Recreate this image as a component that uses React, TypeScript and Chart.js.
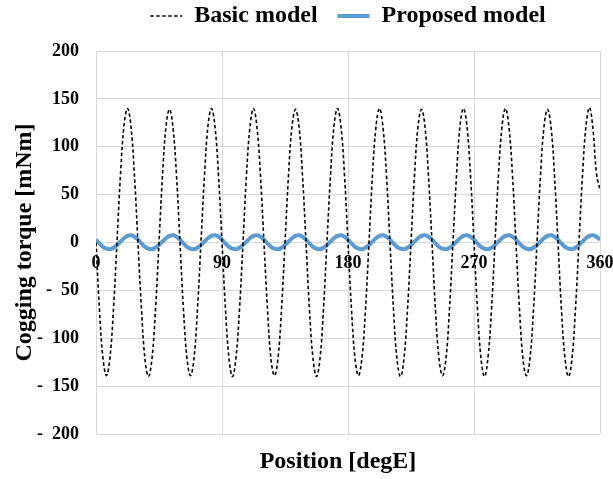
import React, { useEffect, useRef } from 'react';
import { Chart, registerables } from 'chart.js';

Chart.register(...registerables);

// ---- data ----
const POSITION_STEP_DEG = 2.5; // sampling step of the position axis
const X_MIN = 0;
const X_MAX = 360;
const X_TICK_STEP = 90;
const Y_MIN = -200;
const Y_MAX = 200;
const Y_TICK_STEP = 50;

const seriesNames = ['Basic model', 'Proposed model'];

// Basic model cogging torque [mNm], one value every 2.5 degE from 0 to 360
const basicModel = [
  0, -71, -121, -139, -120, -69, 1, 71, 122, 140, 121, 69,
  -1, -70, -122, -140, -121, -70, 0, 70, 121, 139, 120, 70,
  0, -71, -121, -139, -121, -69, 1, 70, 122, 140, 121, 70,
  0, -70, -121, -140, -120, -70, 0, 71, 121, 140, 120, 69,
  -1, -70, -122, -139, -121, -70, 0, 70, 121, 139, 121, 70,
  0, -71, -121, -140, -121, -69, 1, 70, 122, 140, 121, 70,
  0, -70, -121, -139, -120, -70, 0, 71, 121, 140, 120, 70,
  -1, -70, -122, -140, -121, -70, 0, 70, 121, 139, 121, 69,
  0, -71, -121, -139, -121, -69, 1, 70, 122, 140, 121, 70,
  0, -70, -121, -140, -120, -70, 0, 71, 121, 140, 120, 70,
  -1, -70, -122, -139, -121, -70, 0, 70, 121, 139, 121, 70,
  0, -71, -121, -140, -121, -69, 1, 70, 122, 141, 118, 72,
  55,
];

// Proposed model cogging torque [mNm], same positions
const proposedModel = [
  3, -1, -4.5, -6.5, -7, -5.5, -2.5, 1, 4.5, 7, 7.5, 6,
  3, -1, -4.5, -6.5, -7, -5.5, -2.5, 1, 4.5, 7, 7.5, 6,
  3, -1, -4.5, -6.5, -7, -5.5, -2.5, 1, 4.5, 7, 7.5, 6,
  3, -1, -4.5, -6.5, -7, -5.5, -2.5, 1, 4.5, 7, 7.5, 6,
  3, -1, -4.5, -6.5, -7, -5.5, -2.5, 1, 4.5, 7, 7.5, 6,
  3, -1, -4.5, -6.5, -7, -5.5, -2.5, 1, 4.5, 7, 7.5, 6,
  3, -1, -4.5, -6.5, -7, -5.5, -2.5, 1, 4.5, 7, 7.5, 6,
  3, -1, -4.5, -6.5, -7, -5.5, -2.5, 1, 4.5, 7, 7.5, 6,
  3, -1, -4.5, -6.5, -7, -5.5, -2.5, 1, 4.5, 7, 7.5, 6,
  3, -1, -4.5, -6.5, -7, -5.5, -2.5, 1, 4.5, 7, 7.5, 6,
  3, -1, -4.5, -6.5, -7, -5.5, -2.5, 1, 4.5, 7, 7.5, 6,
  3, -1, -4.5, -6.5, -7, -5.5, -2.5, 1, 4.5, 7, 7.5, 6,
  3,
];

const positionsDeg = basicModel.map((_, i) => i * POSITION_STEP_DEG);

const X_TITLE = 'Position [degE]';
const Y_TITLE = 'Cogging torque [mNm]';

// ---- styles ----
const FONT_FAMILY = "'Liberation Serif', 'Times New Roman', serif";
const GRID_COLOR = '#d9d9d9';
const BASIC_COLOR = '#000000';
const PROPOSED_COLOR = '#5b9bd5';
const BASIC_DASH = [3.5, 2.5];

const formatYTick = (v: number) => (v < 0 ? '-  ' + Math.abs(v) : String(v));

const legendSpacer = {
  id: 'legendSpacer',
  beforeInit(chart: any) {
    const legend = chart.legend;
    if (!legend) return;
    const origFit = legend.fit;
    legend.fit = function () {
      origFit.call(this);
      this.height = 67;
    };
  },
};

const xTitleShift = {
  id: 'xTitleShift',
  afterLayout(chart: any) {
    const s = chart.scales.x2;
    if (s) {
      s.left -= 10;
      s.right -= 10;
    }
  },
};

export default function App() {
  const canvasRef = useRef<HTMLCanvasElement | null>(null);

  useEffect(() => {
    if (!canvasRef.current) return;
    const chart = new Chart(canvasRef.current, {
      type: 'line',
      data: {
        datasets: [
          {
            label: seriesNames[0],
            data: basicModel.map((y, i) => ({ x: positionsDeg[i], y })),
            borderColor: BASIC_COLOR,
            backgroundColor: BASIC_COLOR,
            borderWidth: 1.6,
            borderDash: BASIC_DASH,
            pointRadius: 0,
            tension: 0.4,
            fill: false,
          },
          {
            label: seriesNames[1],
            data: proposedModel.map((y, i) => ({ x: positionsDeg[i], y })),
            borderColor: PROPOSED_COLOR,
            backgroundColor: PROPOSED_COLOR,
            borderWidth: 4,
            pointRadius: 0,
            tension: 0.4,
            fill: false,
          },
        ],
      },
      options: {
        responsive: false,
        animation: false,
        devicePixelRatio: 1,
        layout: { padding: { top: -16, left: 0, right: 13, bottom: 0 } },
        plugins: {
          legend: {
            display: true,
            position: 'top',
            fullSize: false,
            labels: {
              usePointStyle: true,
              pointStyle: 'line',
              pointStyleWidth: 32,
              padding: 20,
              color: '#000',
              font: { family: FONT_FAMILY, size: 24, weight: 'bold' },
              generateLabels: (c: any) => {
                const items = Chart.defaults.plugins.legend.labels.generateLabels(c);
                return items.map((it: any) => {
                  const ds: any = c.data.datasets[it.datasetIndex];
                  return {
                    ...it,
                    lineDash: ds.borderDash || [],
                    lineWidth: ds.borderWidth,
                    strokeStyle: ds.borderColor,
                    fillStyle: ds.borderColor,
                  };
                });
              },
            },
          },
          tooltip: { enabled: false },
        },
        scales: {
          x: {
            type: 'linear',
            position: { y: 0 } as any,
            min: X_MIN,
            max: X_MAX,
            afterFit: (scale: any) => {
              scale.paddingLeft = 0;
              scale.paddingRight = 0;
            },
            ticks: {
              stepSize: X_TICK_STEP,
              padding: 10,
              color: '#000',
              maxRotation: 0,
              font: { family: FONT_FAMILY, size: 18, weight: 'bold' },
            },
            grid: { color: GRID_COLOR, lineWidth: 1, drawTicks: false },
            border: { display: false },
          },
          x2: {
            type: 'linear',
            position: 'bottom',
            min: X_MIN,
            max: X_MAX,
            ticks: { display: false },
            grid: { display: false, drawTicks: false },
            border: { display: false },
            title: {
              display: true,
              text: X_TITLE,
              color: '#000',
              padding: { top: 13.6, bottom: 2.6 },
              font: { family: FONT_FAMILY, size: 24, weight: 'bold' },
            },
          },
          y: {
            type: 'linear',
            position: 'left',
            min: Y_MIN,
            max: Y_MAX,
            afterFit: (scale: any) => {
              scale.width = 96;
            },
            ticks: {
              stepSize: Y_TICK_STEP,
              padding: 17,
              color: '#000',
              callback: (v: any) => formatYTick(Number(v)),
              font: { family: FONT_FAMILY, size: 18, weight: 'bold' },
            },
            grid: { color: GRID_COLOR, lineWidth: 1, drawTicks: false },
            border: { display: false },
            title: {
              display: true,
              text: Y_TITLE,
              color: '#000',
              padding: { top: 10, bottom: 0 },
              font: { family: FONT_FAMILY, size: 24, weight: 'bold' },
            },
          },
        },
      } as any,
      plugins: [legendSpacer, xTitleShift],
    });
    return () => chart.destroy();
  }, []);

  return (
    <div style={{ position: 'absolute', left: 0, top: 0, width: 613, height: 479, background: '#fff' }}>
      <canvas ref={canvasRef} width={613} height={479} style={{ display: 'block' }} />
    </div>
  );
}
